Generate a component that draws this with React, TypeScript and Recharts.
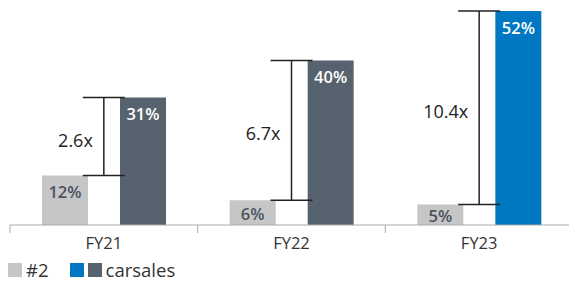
import { ComposedChart, Bar, Line, XAxis, YAxis, Cell, LabelList, ErrorBar } from 'recharts'

const categories = ['FY21', 'FY22', 'FY23']
const secondValues = [12, 6, 5]
const carsalesValues = [31, 40, 52]
const multiples = ['2.6x', '6.7x', '10.4x']
const carsalesColors = ['#57626f', '#57626f', '#0078c1']

const GREY = '#c6c6c6'
const FONT = '"Open Sans", "Noto Sans", sans-serif'

const W = 573
const H = 282
const M = { top: 11, right: 0, left: 10, bottom: 27 }
const band = (W - M.left - M.right) / categories.length

const data = categories.map((name, i) => {
  const lo = secondValues[i]
  const hi = carsalesValues[i]
  const mid = (lo + hi) / 2
  return { name, second: lo, carsales: hi, mid, err: [mid - lo, hi - mid], multiple: multiples[i] }
})

function AxisTick(props: any) {
  const { x, y, payload, index } = props
  const left = x - band / 2
  return (
    <g>
      <line x1={left} y1={y - 8} x2={left} y2={y} stroke="#aaaaaa" />
      {index === categories.length - 1 && (
        <line x1={x + band / 2 - 1} y1={y - 8} x2={x + band / 2 - 1} y2={y} stroke="#aaaaaa" />
      )}
      <text x={x} y={y + 9} textAnchor="middle" dominantBaseline="central" fill="#333" fontSize={16.5} fontFamily={FONT}>
        {payload.value}
      </text>
    </g>
  )
}

// short bars get the label centred, taller ones keep it near the top
const barLabel = (color: string) => (props: any) => {
  const { x, y, width, height, value } = props
  const dy = Math.min(16, height / 2 + 1)
  return (
    <text x={x + width / 2} y={y + dy} textAnchor="middle" dominantBaseline="central" fill={color} fontSize={16.5} fontWeight={600} fontFamily={FONT}>
      {value}%
    </text>
  )
}

function MultipleLabel(props: any) {
  const { x, y, value } = props
  return (
    <text x={x - 11} y={y + 3} textAnchor="end" dominantBaseline="central" fill="#222" fontSize={18} fontFamily={FONT}>
      {value}
    </text>
  )
}

const sq = (c: string) => (
  <span style={{ display: 'inline-block', width: 14, height: 14, background: c, marginRight: 4 }} />
)

export default function App() {
  return (
    <div style={{ position: 'absolute', left: 0, top: 0, width: 569, height: H, overflow: 'hidden', fontFamily: FONT }}>
      <ComposedChart width={W} height={H} data={data} margin={M} barSize={46} barGap={32}>
        <XAxis dataKey="name" height={30} axisLine={{ stroke: '#aaaaaa' }} tickLine={false} tick={<AxisTick />} interval={0} />
        <YAxis hide domain={[0, 52]} />
        <Bar dataKey="second" fill={GREY} isAnimationActive={false}>
          <LabelList dataKey="second" content={barLabel('#4a5360')} />
        </Bar>
        <Bar dataKey="carsales" isAnimationActive={false}>
          {data.map((d, i) => (
            <Cell key={d.name} fill={carsalesColors[i]} />
          ))}
          <LabelList dataKey="carsales" content={barLabel('#ffffff')} />
        </Bar>
        <Line dataKey="mid" stroke="none" dot={false} activeDot={false} isAnimationActive={false}>
          <ErrorBar dataKey="err" width={21} stroke="#222" strokeWidth={1.5} direction="y" isAnimationActive={false} />
          <LabelList dataKey="multiple" content={<MultipleLabel />} />
        </Line>
      </ComposedChart>
      <div style={{ position: 'absolute', left: 8, top: 261, display: 'flex', alignItems: 'center', fontSize: 18.5, color: '#333', lineHeight: '18px' }}>
        {sq(GREY)}
        <span style={{ marginRight: 21 }}>#2</span>
        {sq('#0078c1')}
        {sq('#57626f')}
        <span>carsales</span>
      </div>
    </div>
  )
}
